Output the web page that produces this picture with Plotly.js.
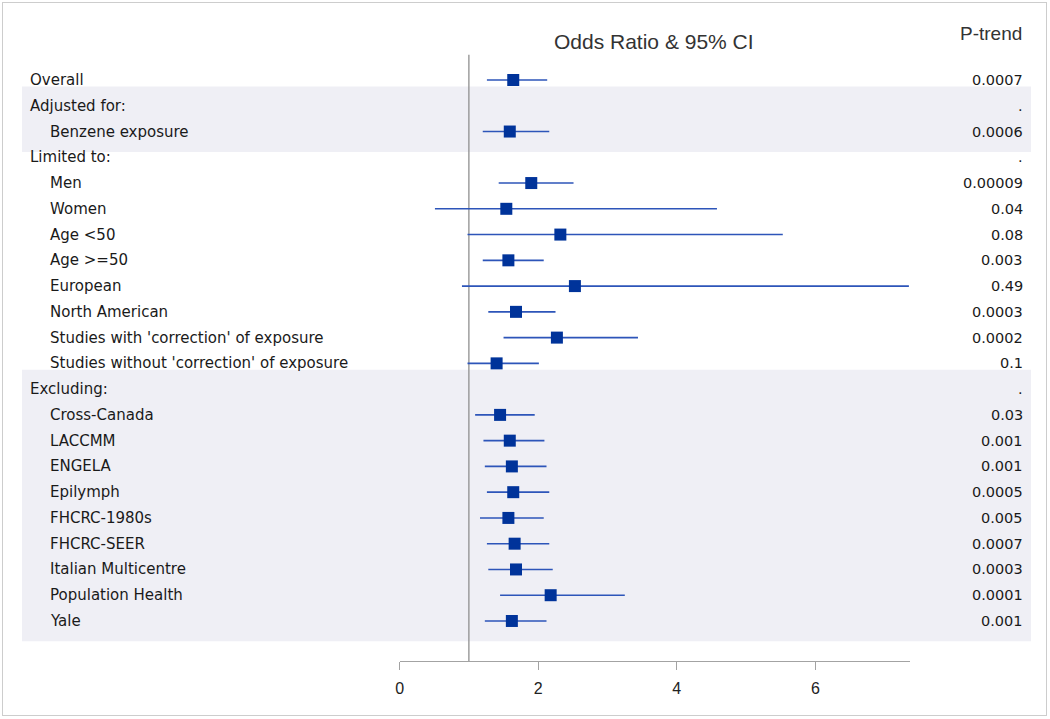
<!DOCTYPE html>
<html>
<head>
<meta charset="utf-8">
<script src="https://cdn.plot.ly/plotly-3.0.1.min.js"></script>
<style>
  html, body { margin: 0; padding: 0; background: #ffffff; }
  #wrap { position: relative; width: 1050px; height: 719px; }
  #chart { width: 1050px; height: 719px; }
  #frame { position: absolute; left: 2px; top: 2px; width: 1045px; height: 714px;
           border: 1px solid #cdcdcd; pointer-events: none; box-sizing: border-box; }
</style>
</head>
<body>
<div id="wrap">
  <div id="chart"></div>
  <div id="frame"></div>
</div>
<script>
// ---- data ----
const rowLabels = [
  "Overall", "Adjusted for:", "Benzene exposure", "Limited to:",
  "Men", "Women", "Age <50", "Age >=50", "European", "North American",
  "Studies with 'correction' of exposure", "Studies without 'correction' of exposure",
  "Excluding:", "Cross-Canada", "LACCMM", "ENGELA", "Epilymph", "FHCRC-1980s",
  "FHCRC-SEER", "Italian Multicentre", "Population Health", "Yale"
];
const rowLevel = [0, 0, 1, 0, 1, 1, 1, 1, 1, 1, 1, 1, 0, 1, 1, 1, 1, 1, 1, 1, 1, 1];
const oddsRatio = [1.64, null, 1.59, null, 1.90, 1.54, 2.32, 1.57, 2.53, 1.68, 2.27, 1.40,
                   null, 1.45, 1.59, 1.62, 1.64, 1.57, 1.66, 1.68, 2.18, 1.62];
const lowerCI   = [1.26, null, 1.20, null, 1.43, 0.51, 0.98, 1.20, 0.90, 1.28, 1.50, 0.98,
                   null, 1.09, 1.21, 1.23, 1.26, 1.16, 1.26, 1.28, 1.45, 1.23];
const upperCI   = [2.13, null, 2.16, null, 2.51, 4.58, 5.53, 2.08, 7.35, 2.25, 3.44, 2.01,
                   null, 1.95, 2.09, 2.12, 2.16, 2.08, 2.16, 2.21, 3.25, 2.12];
const pTrend = ["0.0007", ".", "0.0006", ".", "0.00009", "0.04", "0.08", "0.003", "0.49",
                "0.0003", "0.0002", "0.1", ".", "0.03", "0.001", "0.001", "0.0005", "0.005",
                "0.0007", "0.0003", "0.0001", "0.001"];
const shadedBlocks = [["Adjusted for:", "Benzene exposure"], ["Excluding:", "Yale"]];
const xTicks = [0, 2, 4, 6];
const refValue = 1;
const chartTitle = "Odds Ratio & 95% CI";
const pHeader = "P-trend";

// ---- build ----
const rowIdx = rowLabels.map((_, i) => i);
const keep = rowIdx.filter(i => oddsRatio[i] !== null);

const trace = {
  type: "scatter",
  mode: "markers",
  x: keep.map(i => oddsRatio[i]),
  y: keep.map(i => i),
  marker: { symbol: "square", size: 12, color: "#00339a", line: { width: 0 } },
  error_x: {
    type: "data", symmetric: false,
    array: keep.map(i => upperCI[i] - oddsRatio[i]),
    arrayminus: keep.map(i => oddsRatio[i] - lowerCI[i]),
    width: 0, thickness: 1.6, color: "#2d55b9"
  },
  hoverinfo: "skip",
  cliponaxis: false
};

const labelFont = { family: "DejaVu Sans", size: 15, color: "#1a1a1a" };
const annotations = [];
rowLabels.forEach((lab, i) => {
  annotations.push({
    xref: "paper", yref: "y", x: rowLevel[i] ? 48 / 1050 : 28 / 1050, y: i,
    xanchor: "left", yanchor: "middle", text: lab, showarrow: false, font: labelFont
  });
  annotations.push({
    xref: "paper", yref: "y", x: 1025 / 1050, y: i,
    xanchor: "right", yanchor: "middle", text: pTrend[i], showarrow: false,
    font: { family: "DejaVu Sans", size: 14.5, color: "#1a1a1a" }
  });
});
annotations.push({
  xref: "paper", yref: "y", x: 654 / 1050, y: -1.51, xanchor: "center", yanchor: "middle",
  text: chartTitle, showarrow: false,
  font: { family: "Liberation Sans, Arial", size: 21, color: "#333333" }
});
annotations.push({
  xref: "paper", yref: "y", x: 1024 / 1050, y: -1.79, xanchor: "right", yanchor: "middle",
  text: pHeader, showarrow: false,
  font: { family: "Liberation Sans, Arial", size: 19, color: "#333333" }
});

const shapes = [];
shadedBlocks.forEach(b => {
  const a = rowLabels.indexOf(b[0]), z = rowLabels.indexOf(b[1]);
  shapes.push({
    type: "rect", xref: "paper", yref: "y", x0: 22 / 1050, x1: 1031 / 1050,
    y0: a - 0.75, y1: z + 0.79, fillcolor: "#efeff5", line: { width: 0 }, layer: "below"
  });
});
shapes.push({
  type: "line", xref: "x", yref: "paper", x0: refValue, x1: refValue, y0: 0, y1: 0.917,
  line: { color: "#8f8f8f", width: 1.3 }, layer: "below"
});

const layout = {
  width: 1050, height: 719,
  margin: { l: 0, r: 0, t: 0, b: 58, pad: 0 },
  paper_bgcolor: "#ffffff", plot_bgcolor: "rgba(0,0,0,0)",
  showlegend: false,
  xaxis: {
    domain: [399.6 / 1050, 909.6 / 1050], range: [0, 7.36],
    tickvals: xTicks, ticktext: xTicks.map(String),
    showline: true, linecolor: "#a3a3a3", linewidth: 1.3,
    ticks: "outside", ticklen: 8, tickcolor: "#a3a3a3", tickwidth: 1.3,
    showgrid: false, zeroline: false, ticklabelstandoff: 4,
    tickfont: { family: "Liberation Sans, Arial", size: 16, color: "#222222" },
    fixedrange: true
  },
  yaxis: {
    range: [22.554, -3.106], visible: false, showgrid: false, zeroline: false, fixedrange: true
  },
  shapes: shapes,
  annotations: annotations
};

Plotly.newPlot("chart", [trace], layout, { displayModeBar: false, staticPlot: true });
</script>
</body>
</html>
